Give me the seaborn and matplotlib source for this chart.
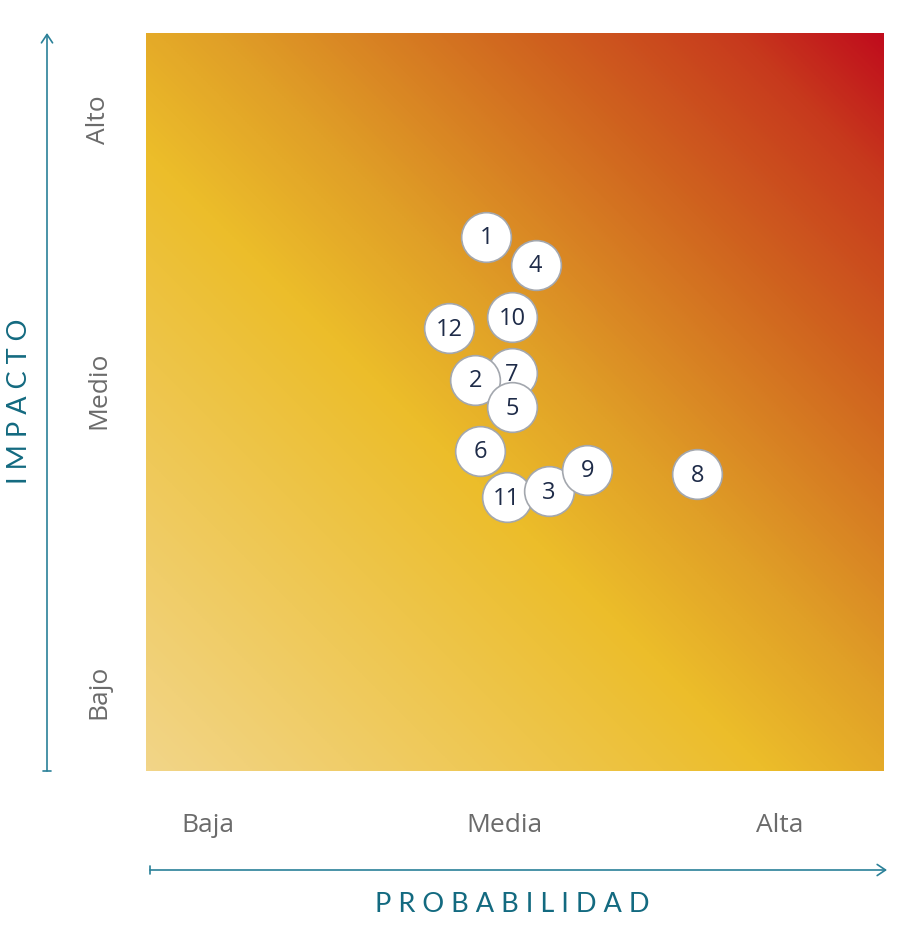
import numpy as np
import pandas as pd
import matplotlib
matplotlib.use("Agg")
import matplotlib.pyplot as plt
from matplotlib.colors import LinearSegmentedColormap
from matplotlib.patches import FancyArrowPatch
from matplotlib.lines import Line2D
import seaborn as sns

# ---- data ----
labels = ["1", "4", "10", "12", "7", "2", "5", "6", "11", "3", "9", "8"]
probabilidad = [46.1, 52.8, 49.6, 41.1, 49.6, 44.6, 49.6, 45.3, 48.9, 54.6, 59.8, 74.7]
impacto = [72.4, 68.6, 61.5, 60.0, 53.9, 53.0, 49.3, 43.4, 37.1, 37.9, 40.8, 40.2]
x_tick_labels = ["Baja", "Media", "Alta"]
x_tick_pos = [8.4, 48.6, 85.8]
y_tick_labels = ["Bajo", "Medio", "Alto"]
y_tick_pos = [10.7, 51.6, 88.2]

df = pd.DataFrame({"prob": probabilidad, "imp": impacto, "label": labels})

sns.set_theme(style="white")
plt.rcParams["font.family"] = ["Open Sans", "DejaVu Sans"]

fig = plt.figure(figsize=(9, 9.34), dpi=100)
ax = fig.add_axes([146 / 900, 1 - 771 / 934, 738 / 900, 738 / 934])

# gradient background
cmap = LinearSegmentedColormap.from_list(
    "risk",
    [(0.0, "#f2d588"), (0.42, "#ecbd2a"), (0.55, "#e09f27"),
     (0.75, "#d0651f"), (0.9, "#c73a1d"), (1.0, "#c00c1c")])
g = np.linspace(0, 1, 400)
X, Y = np.meshgrid(g, g)
T = (X + Y) / 2
ax.imshow(T, extent=[0, 100, 0, 100], origin="lower", cmap=cmap,
          vmin=0, vmax=1, aspect="auto", zorder=0, interpolation="bilinear")

# points, drawn in order so overlaps match
for i, row in df.iterrows():
    sns.scatterplot(x=[row["prob"]], y=[row["imp"]], ax=ax, s=1280,
                    color="white", edgecolor="#a3a7ae", linewidth=1.2,
                    zorder=2 + i * 2, legend=False)
    ax.text(row["prob"], row["imp"] - 0.2, row["label"], ha="center", va="center",
            fontsize=17, color="#1e2b48", zorder=3 + i * 2)

ax.set_xlim(0, 100)
ax.set_ylim(0, 100)
ax.set_xlabel("")
ax.set_ylabel("")
for s in ax.spines.values():
    s.set_visible(False)

ax.set_xticks(x_tick_pos)
ax.set_xticklabels(x_tick_labels, fontsize=19, color="#6b6b6b")
ax.set_yticks(y_tick_pos)
ax.set_yticklabels(y_tick_labels, fontsize=19, color="#6b6b6b",
                   rotation=90, va="center")
ax.tick_params(axis="x", length=0, pad=30)
ax.tick_params(axis="y", length=0, pad=25)

teal = "#2a8098"
W, H = 900, 934


def fx(px):
    return px / W


def fy(py):
    return 1 - py / H


# vertical arrow
fig.patches.append(FancyArrowPatch(
    (fx(47), fy(771)), (fx(47), fy(33)), transform=fig.transFigure,
    arrowstyle="->,head_length=6,head_width=4", color=teal, lw=1.2,
    shrinkA=0, shrinkB=0, mutation_scale=1))
fig.add_artist(Line2D([fx(43), fx(51)], [fy(771), fy(771)], color=teal, lw=1.2,
                      transform=fig.transFigure))
# horizontal arrow
fig.patches.append(FancyArrowPatch(
    (fx(150), fy(870)), (fx(887), fy(870)), transform=fig.transFigure,
    arrowstyle="->,head_length=6,head_width=4", color=teal, lw=1.2,
    shrinkA=0, shrinkB=0, mutation_scale=1))
fig.add_artist(Line2D([fx(150), fx(150)], [fy(866), fy(874)], color=teal, lw=1.2,
                      transform=fig.transFigure))

title_col = "#136a80"
fig.text(fx(20), fy(401), "I M P A C T O", rotation=90, ha="center",
         va="center", fontsize=19.5, color=title_col, family=["Lato", "DejaVu Sans"])
fig.text(fx(512), fy(904), "P R O B A B I L I D A D", ha="center",
         va="center", fontsize=19.5, color=title_col, family=["Lato", "DejaVu Sans"])

fig.savefig("out.png", dpi=100, facecolor="white")
